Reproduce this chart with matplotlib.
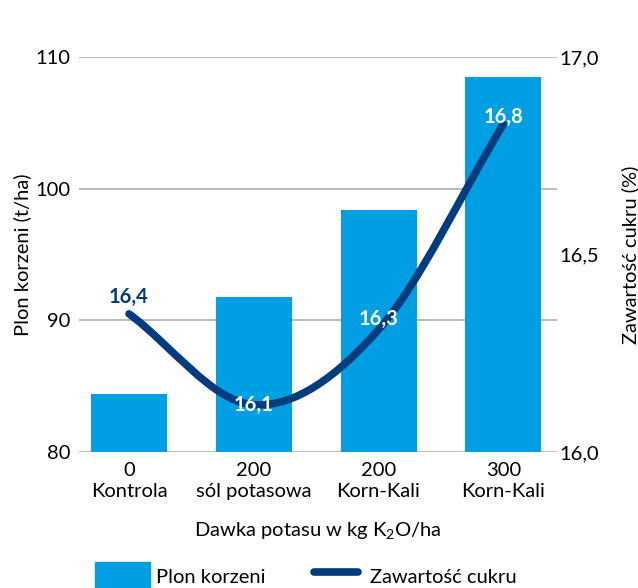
import matplotlib
matplotlib.use('Agg')
import matplotlib.pyplot as plt
from matplotlib.path import Path
from matplotlib.patches import PathPatch, Patch
from matplotlib.lines import Line2D
from matplotlib.legend_handler import HandlerLine2D
import numpy as np

plt.rcParams['font.family'] = ['Lato', 'DejaVu Sans']
plt.rcParams['mathtext.default'] = 'regular'

doses = ['0', '200', '200', '300']
products = ['Kontrola', 'sól potasowa', 'Korn-Kali', 'Korn-Kali']
root_yield = [84.4, 91.8, 98.4, 108.5]        # t/ha
sugar = [16.35, 16.12, 16.31, 16.83]          # %
sugar_labels = ['16,4', '16,1', '16,3', '16,8']

left_ticks = [80, 90, 100, 110]
right_ticks = [16.0, 16.5, 17.0]
right_tick_labels = ['16,0', '16,5', '17,0']

bar_color = '#009FE3'
line_color = '#003C7E'
grid_color = '#B5B5B5'
fs = 14.5

fig = plt.figure(figsize=(6.38, 5.88), dpi=100)
ax = fig.add_axes([0.124, 0.231, 0.749, 0.672])
x = np.arange(len(doses))

ax.bar(x, root_yield, width=0.61, color=bar_color, zorder=2)
ax.set_ylim(80, 110)
ax.set_xlim(-0.40, 3.43)
ax.set_yticks(left_ticks)
ax.set_yticklabels([str(t) for t in left_ticks])
ax.set_xticks(x)
ax.set_xticklabels([d + '\n' + p for d, p in zip(doses, products)], linespacing=1.3)
ax.yaxis.grid(True, color=grid_color, lw=1.3, zorder=0)
ax.set_axisbelow(True)
for s in ax.spines.values():
    s.set_visible(False)
ax.tick_params(axis='y', length=0, pad=6, labelsize=fs)
ax.tick_params(axis='x', length=0, pad=7, labelsize=fs)
ax.set_ylabel('Plon korzeni (t/ha)', fontsize=fs, labelpad=3)
ax.set_xlabel('Dawka potasu w kg K$_2$O/ha', fontsize=fs, labelpad=14)

ax2 = ax.twinx()
ax2.set_ylim(16.0, 17.0)
ax2.set_yticks(right_ticks)
ax2.set_yticklabels(right_tick_labels)
for s in ax2.spines.values():
    s.set_visible(False)
ax2.tick_params(axis='y', length=0, pad=2, labelsize=fs)
ax2.set_ylabel('Zawartość cukru (%)', fontsize=fs, labelpad=16)

# smooth curve through the points (Catmull-Rom as cubic Bezier)
pts = np.column_stack([x, sugar]).astype(float)
n = len(pts)
tang = np.zeros_like(pts)
tang[0] = pts[1] - pts[0]
tang[-1] = pts[-1] - pts[-2]
for i in range(1, n - 1):
    tang[i] = (pts[i + 1] - pts[i - 1]) / 2
verts = [pts[0]]
codes = [Path.MOVETO]
for i in range(n - 1):
    verts += [pts[i] + tang[i] / 3, pts[i + 1] - tang[i + 1] / 3, pts[i + 1]]
    codes += [Path.CURVE4] * 3
ax2.add_patch(PathPatch(Path(verts, codes), fill=False, edgecolor=line_color,
                        lw=5.5, capstyle='round', joinstyle='round', zorder=3))

offsets = [12, 0, 8, 5]
colors = [line_color, 'white', 'white', 'white']
for xi, yi, lab, off, c in zip(x, sugar, sugar_labels, offsets, colors):
    ax2.annotate(lab, (xi, yi), xytext=(0, off), textcoords='offset points',
                 ha='center', va='center', fontsize=fs, fontweight='bold',
                 color=c, zorder=4)

sugar_handle = Line2D([], [], color=line_color, lw=5.5, solid_capstyle='round',
                      label='Zawartość cukru')
handles = [Patch(color=bar_color, label='Plon korzeni'), sugar_handle]
fig.legend(handles=handles, loc='upper left', bbox_to_anchor=(95 / 638, 1 - 562 / 588),
           ncol=2, frameon=False, fontsize=fs, handlelength=2.75, handleheight=1.8,
           handletextpad=0.3, columnspacing=2.1, borderpad=0, borderaxespad=0,
           handler_map={sugar_handle: HandlerLine2D(numpoints=2, marker_pad=0.3)})

plt.savefig('out.png', dpi=100)
